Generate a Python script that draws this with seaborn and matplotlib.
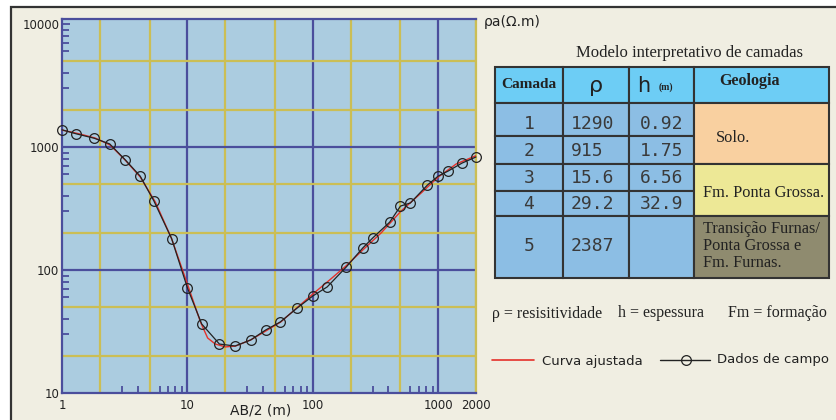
import numpy as np
import pandas as pd
import matplotlib.pyplot as plt
import seaborn as sns
from matplotlib.patches import Rectangle
from matplotlib.ticker import FixedLocator, NullFormatter, LogLocator

# dados de campo (AB/2 em m, resistividade aparente em ohm.m)
ab2_campo = [1.0, 1.3, 1.8, 2.4, 3.2, 4.2, 5.4, 7.5, 10, 13, 18, 24, 32, 42, 55, 75,
             100, 130, 185, 250, 300, 410, 500, 600, 820, 1000, 1200, 1550, 2000]
rho_campo = [1380, 1280, 1180, 1060, 785, 580, 365, 179, 71.5, 36.4, 25.0, 24.1, 27.0,
             32.5, 37.8, 49.1, 61.5, 72.8, 106, 151, 182, 245, 331, 351, 491, 581, 638, 741, 830]

# curva ajustada
ab2_curva = [1.0, 1.39, 1.84, 2.42, 3.19, 4.21, 5.55, 7.45, 10, 12.7, 14.5, 16.7, 20.1,
             24.2, 31.9, 42.1, 55.5, 75.9, 100, 139, 184, 251, 350, 506, 731, 1000, 1390, 2000]
rho_curva = [1374, 1276, 1183, 1038, 783, 570, 357, 182, 76.9, 37.8, 28.0, 25.0, 23.7,
             24.1, 27.0, 31.9, 37.8, 50.0, 63.8, 84.5, 108, 146, 200, 302, 423, 570, 728, 850]

# modelo interpretativo
camadas = ['1', '2', '3', '4', '5']
rho_camadas = ['1290', '915', '15.6', '29.2', '2387']
h_camadas = ['0.92', '1.75', '6.56', '32.9', '']
geologia = ['Solo.', 'Fm. Ponta Grossa.', 'Transição Furnas/\nPonta Grossa e\nFm. Furnas.']

x_ticks = [1, 10, 100, 1000, 2000]
y_ticks = [10, 100, 1000, 10000]

NAVY = '#4B4E9C'
YEL = '#CBBE55'
BEIGE = '#F0EEE2'

sns.set_theme(style='white')
plt.rcParams['font.family'] = ['DejaVu Sans']

fig = plt.figure(figsize=(8.36, 4.2), dpi=100)
fig.patch.set_facecolor('white')

# fundo e painel direito em coordenadas de pixel
bg = fig.add_axes([0, 0, 1, 1], zorder=0)
bg.set_xlim(0, 836)
bg.set_ylim(420, 0)
bg.axis('off')
bg.add_patch(Rectangle((11, 7), 840, 430, facecolor=BEIGE, edgecolor='#333333', lw=1.6))

ax = fig.add_axes([62 / 836, 27 / 420, 414 / 836, 374 / 420], zorder=1)
ax.set_facecolor('#ABCCE0')
ax.set_xscale('log')
ax.set_yscale('log')

for d in [1, 10, 100, 1000]:
    for m in [2, 5]:
        ax.axvline(d * m, color=YEL, lw=1.6, zorder=1)
    if d > 1:
        ax.axvline(d, color=NAVY, lw=1.6, zorder=1)
for d in [10, 100, 1000]:
    for m in [2, 5]:
        ax.axhline(d * m, color=YEL, lw=1.6, zorder=1)
    if d > 10:
        ax.axhline(d, color=NAVY, lw=1.6, zorder=1)

sns.lineplot(x=ab2_curva, y=rho_curva, color='#E5302A', lw=1.0, ax=ax,
             estimator=None, sort=False, zorder=3)
sns.lineplot(x=ab2_campo, y=rho_campo, color='#222222', lw=0.9, ax=ax,
             estimator=None, sort=False, marker='o', markersize=7,
             markerfacecolor='none', markeredgecolor='#222222', markeredgewidth=0.9,
             zorder=4, clip_on=False)

ax.set_xlim(1, 2000)
ax.set_ylim(10, 10990)
ax.xaxis.set_major_locator(FixedLocator(x_ticks))
ax.set_xticklabels([str(v) for v in x_ticks])
ax.yaxis.set_major_locator(FixedLocator(y_ticks))
ax.set_yticklabels([str(v) for v in y_ticks])
ax.xaxis.set_minor_locator(LogLocator(base=10, subs=np.arange(2, 10)))
ax.yaxis.set_minor_locator(LogLocator(base=10, subs=np.arange(2, 10)))
ax.xaxis.set_minor_formatter(NullFormatter())
ax.yaxis.set_minor_formatter(NullFormatter())
ax.tick_params(which='both', direction='in', color=NAVY, width=1.3,
               bottom=True, left=True, top=False, right=False,
               labelsize=8.5, labelcolor='#222222', pad=2)
ax.tick_params(which='major', length=6)
ax.tick_params(which='minor', length=5)
ax.tick_params(axis='x', which='major', length=0, pad=4)
ax.set_xlabel('')
ax.set_ylabel('')
for s in ['left', 'bottom', 'top']:
    ax.spines[s].set_color(NAVY)
    ax.spines[s].set_linewidth(1.6)
ax.spines['right'].set_color(YEL)
ax.spines['right'].set_linewidth(1.6)

fig.text(261 / 836, 1 - 410 / 420, 'AB/2 (m)', ha='center', va='center',
         fontsize=10, color='#222222')
bg.text(484, 22, 'ρa(Ω.m)', fontsize=10, va='center', ha='left', color='#222222')

# tabela
serif = ['Liberation Serif', 'DejaVu Serif']
bg.text(690, 53, 'Modelo interpretativo de camadas', family=serif, fontsize=12,
        ha='center', va='center', color='#222222')

cols = [495, 563, 629, 694, 829]
rows = [67, 103, 136, 164, 191, 216, 278]
HEAD = '#6DCDF5'
BODY = '#8CBEE4'
geo_colors = ['#F9D0A0', '#EDE896', '#8F8B6F']
EC = '#333333'

for i in range(4):
    bg.add_patch(Rectangle((cols[i], rows[0]), cols[i + 1] - cols[i], rows[1] - rows[0],
                           facecolor=HEAD, edgecolor=EC, lw=1.5))
for r in range(5):
    for c in range(3):
        bg.add_patch(Rectangle((cols[c], rows[r + 1]), cols[c + 1] - cols[c],
                               rows[r + 2] - rows[r + 1], facecolor=BODY, edgecolor=EC, lw=1.5))
geo_span = [(1, 3), (3, 5), (5, 6)]
for (a, b), col in zip(geo_span, geo_colors):
    bg.add_patch(Rectangle((cols[3], rows[a]), cols[4] - cols[3], rows[b] - rows[a],
                           facecolor=col, edgecolor=EC, lw=1.5))

bg.text(529, 85, 'Camada', family=serif, fontsize=11, weight='bold', ha='center',
        va='center', color='#222222')
bg.text(596, 86, 'ρ', fontsize=16, ha='center', va='center', color='#222222')
bg.text(644, 86, 'h', fontsize=15, ha='center', va='center', color='#222222')
bg.text(666, 87, '(m)', family=serif, fontsize=7, weight='bold', ha='center',
        va='center', color='#222222')
bg.text(750, 81, 'Geologia', family=serif, fontsize=11.5, weight='bold', ha='center',
        va='center', color='#222222')

row_y = [124, 151, 178, 204, 246]
mono = dict(family=['DejaVu Sans Mono'], fontsize=13, color='#3A3A3A', va='center')
for y, cam, rho, h in zip(row_y, camadas, rho_camadas, h_camadas):
    bg.text(529, y, cam, ha='center', **mono)
    bg.text(571, y, rho, ha='left', **mono)
    bg.text(640, y, h, ha='left', **mono)

gtxt = dict(family=serif, fontsize=11.8, ha='left', color='#222222')
bg.text(716, 138, geologia[0], va='center', **gtxt)
bg.text(703, 193, geologia[1], va='center', **gtxt)
bg.text(703, 221, geologia[2], va='top', linespacing=1.1, **gtxt)

# notas
bg.text(492, 314, 'ρ = resisitividade', family=serif, fontsize=11.5, ha='left',
        va='center', color='#222222')
bg.text(618, 313, 'h = espessura', family=serif, fontsize=11.5, ha='left',
        va='center', color='#222222')
bg.text(728, 313, 'Fm = formação', family=serif, fontsize=11.5, ha='left',
        va='center', color='#222222')

# legenda
bg.plot([492, 534], [360, 360], color='#E5302A', lw=1.2)
bg.text(542, 361, 'Curva ajustada', fontsize=9.5, ha='left', va='center', color='#222222')
bg.plot([660, 710], [360, 360], color='#222222', lw=1.0)
bg.plot([686], [360], marker='o', markersize=7, markerfacecolor='none',
        markeredgecolor='#222222', markeredgewidth=0.9)
bg.text(717, 360, 'Dados de campo', fontsize=9.5, ha='left', va='center', color='#222222')

fig.savefig('out.png', dpi=100)
